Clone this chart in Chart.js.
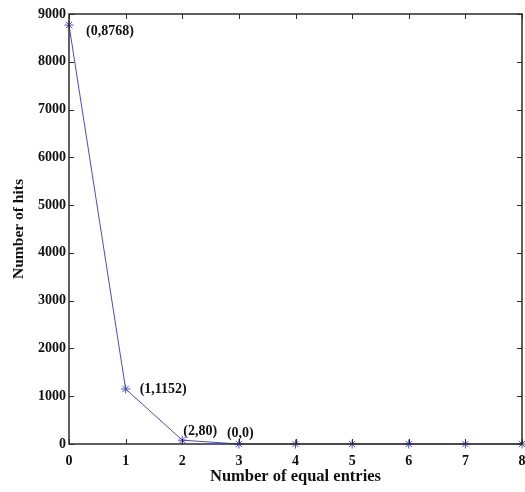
<!DOCTYPE html>
<html>
<head>
<meta charset="utf-8">
<script src="https://cdn.jsdelivr.net/npm/chart.js@4/dist/chart.umd.min.js"></script>
<style>
  html, body { margin: 0; padding: 0; background: #fff; }
  #wrap { width: 525px; height: 492px; }
</style>
</head>
<body>
<div id="wrap"><canvas id="chart"></canvas></div>
<script>
// data
const entries = [0, 1, 2, 3, 4, 5, 6, 7, 8];
const hits = [8768, 1152, 80, 0, 0, 0, 0, 0, 0];
const xTicks = [0, 1, 2, 3, 4, 5, 6, 7, 8];
const yTicks = [0, 1000, 2000, 3000, 4000, 5000, 6000, 7000, 8000, 9000];
const noteIndex = [0, 1, 2, 3];
const noteText = ['(0,8768)', '(1,1152)', '(2,80)', '(0,0)'];

const SERIF = '"Liberation Serif", "Times New Roman", serif';
const AXIS = '#2b2b2b';
const LINE = '#4a4ad0';

// matlab style box with inward ticks
const boxPlugin = {
    id: 'box',
    afterDatasetsDraw(chart) {
        const { ctx, chartArea: a, scales } = chart;
        ctx.save();
        ctx.strokeStyle = AXIS;
        ctx.lineWidth = 1;
        ctx.beginPath();
        scales.x.ticks.forEach(t => {
            const px = Math.round(scales.x.getPixelForValue(t.value)) + 0.5;
            ctx.moveTo(px, a.bottom); ctx.lineTo(px, a.bottom - 5);
            ctx.moveTo(px, a.top); ctx.lineTo(px, a.top + 5);
        });
        scales.y.ticks.forEach(t => {
            const py = Math.round(scales.y.getPixelForValue(t.value)) + 0.5;
            ctx.moveTo(a.left, py); ctx.lineTo(a.left + 5, py);
            ctx.moveTo(a.right, py); ctx.lineTo(a.right - 5, py);
        });
        ctx.stroke();
        ctx.lineWidth = 1.5;
        ctx.strokeRect(a.left, a.top, a.right - a.left, a.bottom - a.top);
        ctx.restore();
    }
};

// point annotations
const noteOffsets = [[17, 6], [14, 0], [1, -9], [-12, -11]];
const notePlugin = {
    id: 'notes',
    afterDatasetsDraw(chart) {
        const { ctx, scales } = chart;
        ctx.save();
        ctx.font = 'bold 14px ' + SERIF;
        ctx.fillStyle = '#111';
        ctx.textBaseline = 'middle';
        ctx.textAlign = 'left';
        noteIndex.forEach((idx, i) => {
            const px = scales.x.getPixelForValue(entries[idx]);
            const py = scales.y.getPixelForValue(hits[idx]);
            ctx.fillText(noteText[i], px + noteOffsets[i][0], py + noteOffsets[i][1]);
        });
        ctx.restore();
    }
};

new Chart(document.getElementById('chart'), {
    type: 'line',
    data: {
        datasets: [{
            data: entries.map((x, i) => ({ x: x, y: hits[i] })),
            borderColor: LINE,
            borderWidth: 1,
            pointStyle: 'star',
            pointRadius: 4.5,
            pointBorderColor: LINE,
            pointBorderWidth: 1,
            fill: false,
            tension: 0,
            clip: false,
        }],
    },
    options: {
        responsive: true,
        maintainAspectRatio: false,
        animation: false,
        layout: { autoPadding: false, padding: { top: 14, right: 3, left: 0, bottom: 0 } },
        plugins: { legend: { display: false }, tooltip: { enabled: false } },
        scales: {
            x: {
                type: 'linear',
                min: 0,
                max: 8,
                afterBuildTicks: s => { s.ticks = xTicks.map(v => ({ value: v })); },
                afterFit: s => { s.height = 48; s.paddingRight = 0; s.paddingLeft = 0; },
                grid: { display: false, drawTicks: false },
                border: { display: false },
                ticks: {
                    padding: 9,
                    color: '#111',
                    font: { family: SERIF, size: 14, weight: 'bold' },
                },
                title: {
                    display: true,
                    text: 'Number of equal entries',
                    color: '#111',
                    font: { family: SERIF, size: 16.5, weight: 'bold' },
                    padding: { top: 0, bottom: 5 },
                },
            },
            y: {
                min: 0,
                max: 9000,
                afterBuildTicks: s => { s.ticks = yTicks.map(v => ({ value: v })); },
                afterFit: s => { s.width = 69; s.paddingTop = 0; s.paddingBottom = 0; },
                grid: { display: false, drawTicks: false },
                border: { display: false },
                ticks: {
                    padding: 3,
                    color: '#111',
                    font: { family: SERIF, size: 14, weight: 'bold' },
                    callback: v => String(v),
                },
                title: {
                    display: true,
                    text: 'Number of hits',
                    color: '#111',
                    font: { family: SERIF, size: 15.5, weight: 'bold' },
                    padding: { top: 10, bottom: 0 },
                },
            },
        },
    },
    plugins: [boxPlugin, notePlugin],
});
</script>
</body>
</html>
